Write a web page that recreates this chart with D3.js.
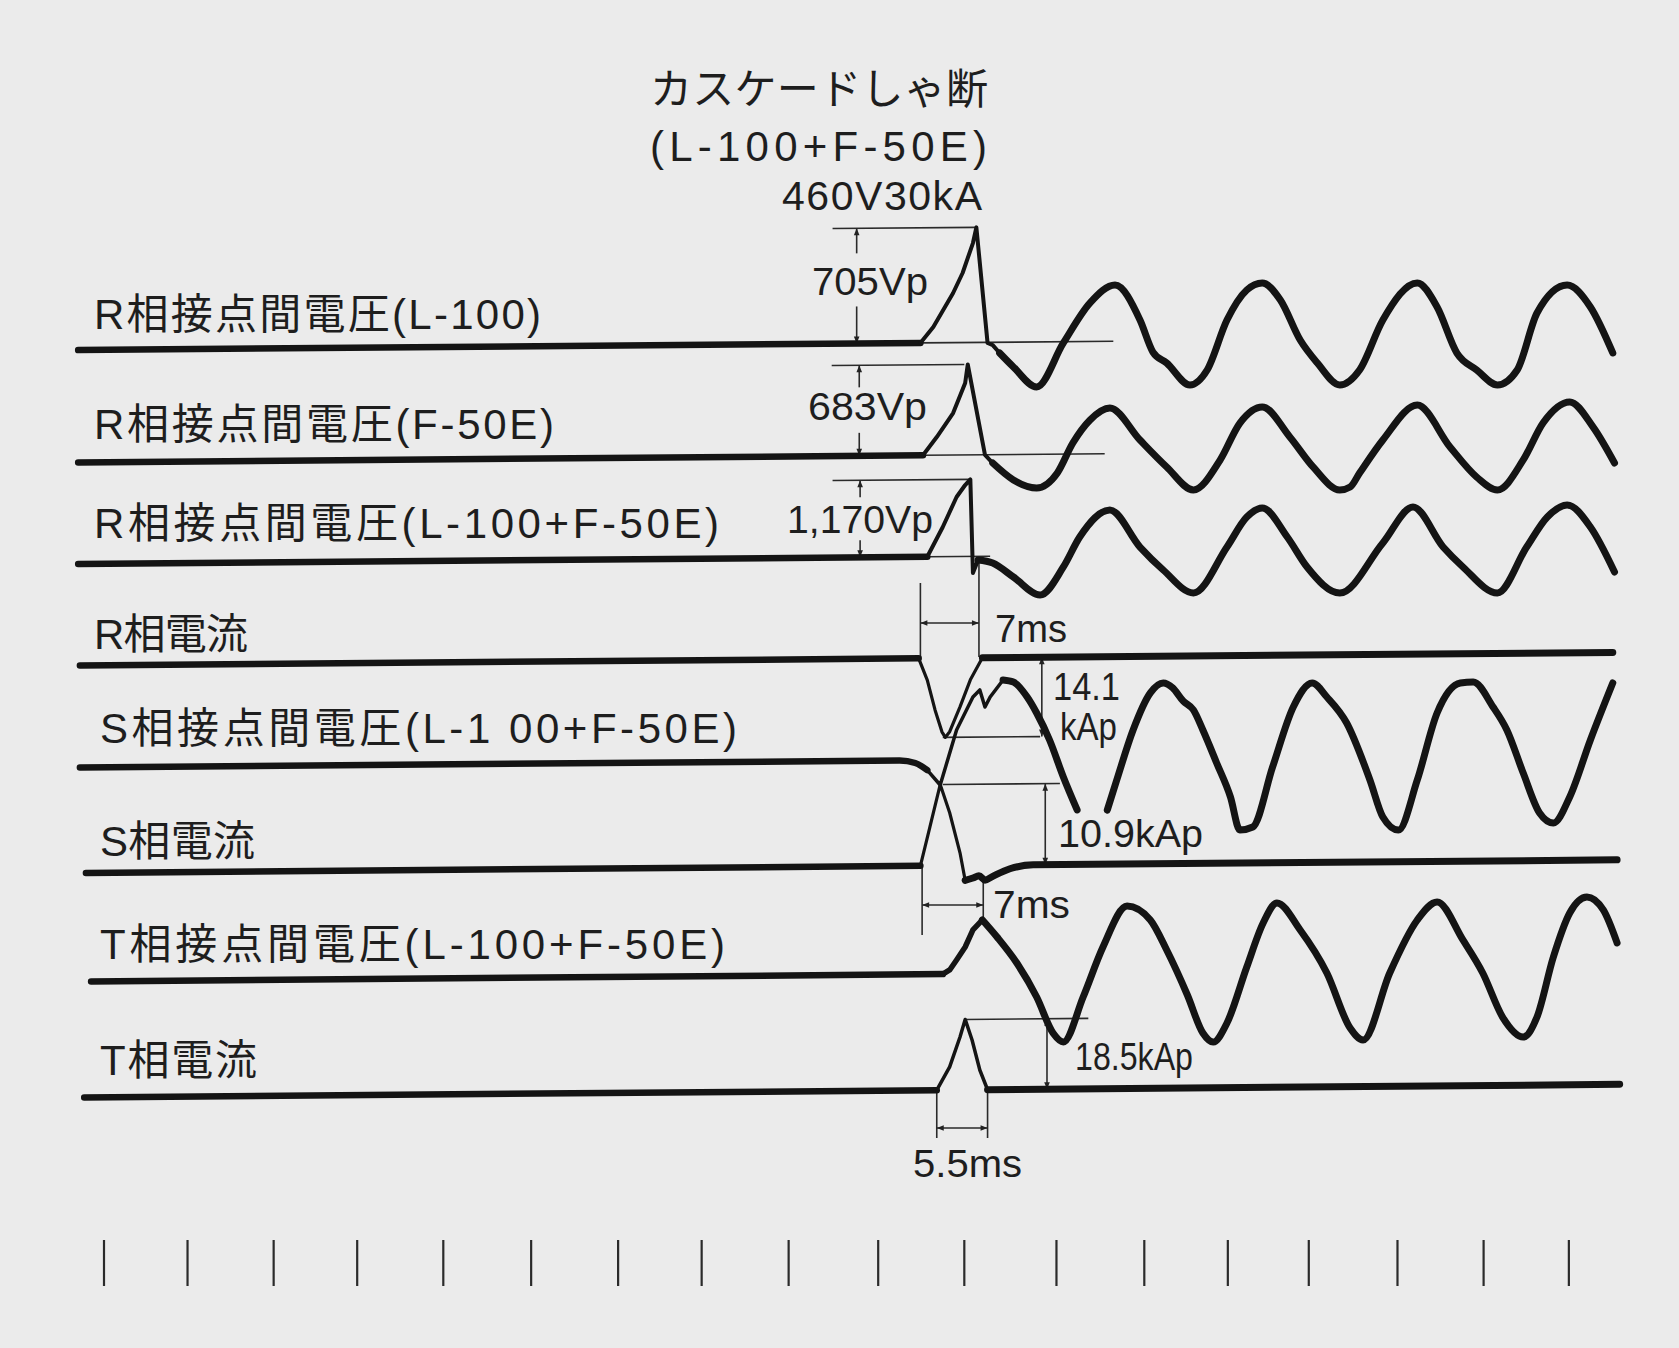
<!DOCTYPE html>
<html lang="ja">
<head>
<meta charset="UTF-8">
<title>カスケードしゃ断 オシログラム</title>
<script src="https://cdn.jsdelivr.net/npm/d3@7"></script>
<style>
  html, body { margin: 0; padding: 0; background: #ebebeb; }
  svg { display: block; }
  text { font-family: "Liberation Sans", "Noto Sans CJK JP", sans-serif; fill: #1e1e1e; }
</style>
</head>
<body>
<svg id="chart"></svg>
<script>
// timing marks along the bottom (ms)
const timeMarks = [0, 9.7, 19.7, 29.4, 39.4, 49.6, 59.7, 69.4, 79.5, 89.9, 99.9, 110.6, 120.8, 130.5, 139.9, 150.2, 160.2, 170.1];

// traces as [time ms, value]; voltages in V, currents in kA
const rVoltL100 = [[-3,0],[94.8,0],[96.3,97],[98.6,304],[99.7,426],[100.9,609],[101.3,705],[102.6,-4],[103.2,-17],[104.0,-66],
  [105.6,-152],[108.3,-276],[111.4,-8],[114.5,236],[117.4,344],[120.3,129],[121.8,-68],[123.4,-136],[126.1,-272],[128.1,-181],
  [130.4,124],[132.7,307],[134.5,349],[136.6,244],[138.9,-2],[140.9,-144],[143.5,-280],[145.8,-189],[148.5,116],[152.5,341],
  [154.8,193],[157.1,-90],[159.4,-195],[161.8,-288],[164.1,-197],[166.4,151],[169.9,321],[172.6,185],[175.2,-98]];

const rVoltF50E = [[-3,0],[95.1,0],[96.7,137],[98.6,317],[100.0,543],[100.3,683],[102.3,0],[103.2,-63],[105.6,-192],[108.3,-254],
  [110.7,-142],[112.5,83],[114.5,256],[116.8,345],[120.3,101],[123.4,-104],[126.5,-279],[129.6,-55],[131.9,223],[134.5,343],
  [137.7,115],[140.4,-113],[143.5,-289],[144.7,-267],[145.8,-162],[148.5,86],[152.5,347],[156.3,29],[159.4,-200],[161.8,-299],
  [164.8,-74],[167.1,204],[170.2,361],[172.9,171],[175.4,-103]];

const rVoltBoth = [[-3,0],[95.6,0],[97.4,450],[99.0,904],[100.0,1085],[100.6,1170],[100.9,-253],[101.5,-56],[103.2,-103],[105.6,-319],
  [108.7,-596],[111.4,-173],[113.3,280],[116.8,687],[120.3,120],[123.0,-232],[126.5,-585],[130.4,109],[132.7,562],[134.5,698],
  [137.4,254],[139.7,-205],[143.5,-605],[148.5,150],[152.0,693],[155.5,81],[157.8,-225],[161.8,-625],[165.2,70],[167.6,524],
  [169.9,704],[172.6,366],[175.4,-321]];

const rCurrent = [[-2.8,0],[94.6,0],[95.6,-3.9],[96.5,-9.2],[97.3,-13.1],[97.7,-14.1],[98.2,-13.1],[99.4,-8.7],[100.6,-3.9],
  [102.0,0],[175.2,0]];

const sVoltBoth = [[-2.8,0],[92.4,0],[94.2,-40],[95.6,-150],[97.1,-378],[99.0,456],[100.9,955],[101.7,1061],[102.3,802],[102.9,953],[104.4,1210],
  [105.6,1178],[107.2,948],[108.3,704],[109.8,292],[111.4,-272],[113.0,-775],[114.8,null],[116.5,-780],[117.6,-325],[119.5,433],
  [121.5,994],[123.0,1143],[124.1,1067],[125.3,868],[126.5,730],[127.6,424],[129.2,-79],[130.8,-597],[131.9,-1100],[133.4,-1056],
  [135.7,-147],[138.1,762],[140.3,1125],[142.0,909],[144.3,512],[147.0,-357],[148.5,-922],[150.3,-1122],[152.5,-363],[154.8,652],
  [157.5,1105],[159.0,1118],[161.3,736],[162.9,385],[164.8,-271],[166.7,-881],[168.3,-1035],[170.2,-641],[172.6,222],[175.2,1085]];

const sCurrent = [[-2.1,0],[94.8,0],[95.9,5.2],[97.1,10.9],[98.2,7.1],[99.4,1.7],[100.0,-2.0],[100.9,-1.7],[101.6,-1.4],[102.3,-2.0],
  [103.2,-1.5],[105.2,-0.5],[107.9,0],[175.7,0]];

const tVoltBoth = [[-1.5,0],[97.4,0],[98.2,62],[99.0,213],[100.0,409],[100.9,667],[102.0,818],[103.7,557],[106.0,159],[108.3,-360],
  [110.2,-909],[111.4,-1047],[113.7,-366],[116.0,391],[118.8,1011],[121.5,796],[123.4,337],[125.8,-349],[127.6,-929],[128.8,-1067],
  [130.4,-780],[132.7,69],[134.6,735],[136.2,1038],[138.9,624],[142.0,-33],[144.7,-872],[146.2,-1056],[149.3,-41],[152.5,761],
  [154.8,1032],[157.8,451],[160.1,-53],[162.4,-725],[164.8,-1031],[166.4,-729],[168.3,181],[170.2,848],[172.2,1088],[174.1,889],
  [175.7,386]];

const tCurrent = [[-2.3,0],[96.7,0],[98.2,6.1],[99.4,13.9],[100.0,18.5],[100.8,13.1],[101.7,5.2],[102.6,0],[176.0,0]];

// trace names on the left
const traceNames = ["R相接点間電圧(L-100)", "R相接点間電圧(F-50E)", "R相接点間電圧(L-100+F-50E)", "R相電流",
  "S相接点間電圧(L-1 00+F-50E)", "S相電流", "T相接点間電圧(L-100+F-50E)", "T相電流"];

// annotated peak values
const peakValues = [705, 683, 1170, -14.1, 10.9, 18.5];

const W = 1679, H = 1348;
const svg = d3.select("#chart").attr("width", W).attr("height", H);
svg.append("rect").attr("width", W).attr("height", H).attr("fill", "#ebebeb");

const x = d3.scaleLinear().domain([0, 170]).range([104, 1568]);

// the photographed record is slightly tilted, lines rise to the right
const tilt = 0.00855, pivot = 840;

// layout of each channel: zero line, and the pixel height of a reference value
const traces = {
  r1: { data: rVoltL100, base: 343.6, ref: 705, refPx: 115.1, thin: [94.8, 104.0], thinW: 4 },
  r2: { data: rVoltF50E, base: 456, ref: 683, refPx: 90.5, thin: [95.1, 103.2], thinW: 4 },
  r3: { data: rVoltBoth, base: 557.5, ref: 1170, refPx: 77, thin: [95.6, 101.5], thinW: 4 },
  ri: { data: rCurrent, base: 659, ref: 14.1, refPx: 79.3, thin: [94.6, 102.0], thinW: 3.2 },
  sv: { data: sVoltBoth, base: 761, ref: 1170, refPx: 77, thin: [95.6, 104.4], thinW: 3.5 },
  si: { data: sCurrent, base: 866.5, ref: 10.9, refPx: 81.1, thin: [94.8, 100.0], thinW: 3.2 },
  tv: { data: tVoltBoth, base: 975, ref: 1170, refPx: 77, thin: [97.4, 102.0], thinW: 5.5 },
  ti: { data: tCurrent, base: 1091, ref: 18.5, refPx: 70.5, thin: [96.7, 102.6], thinW: 3.5 }
};
Object.values(traces).forEach(tr => {
  tr.y = d3.scaleLinear().domain([0, tr.ref]).range([0, tr.refPx]);
});
function yAt(tr, t, v) {
  return tr.base - tilt * (x(t) - pivot) - tr.y(v);
}

const defs = svg.append("defs");
defs.append("marker")
  .attr("id", "arr")
  .attr("viewBox", "0 0 10 10")
  .attr("refX", 10).attr("refY", 5)
  .attr("markerWidth", 11).attr("markerHeight", 7)
  .attr("markerUnits", "userSpaceOnUse")
  .attr("orient", "auto-start-reverse")
  .append("path").attr("d", "M0,1 L10,5 L0,9 Z").attr("fill", "#222");

// ---- timing marks
svg.append("g").selectAll("line")
  .data(timeMarks)
  .join("line")
  .attr("x1", d => x(d)).attr("x2", d => x(d))
  .attr("y1", 1240).attr("y2", 1286)
  .attr("stroke", "#2a2a2a").attr("stroke-width", 2.2);

// ---- thin reference lines
const refLines = [
  { tr: "r1", v: 705, t: [84.6, 101.3] }, { tr: "r1", v: 0, t: [94.8, 117.2] },
  { tr: "r2", v: 683, t: [84.5, 99.9] }, { tr: "r2", v: 0, t: [95.1, 116.2] },
  { tr: "r3", v: 1170, t: [84.6, 100.6] }, { tr: "r3", v: 0, t: [95.6, 102.9] },
  { tr: "ri", v: -14.1, t: [97.4, 108.7] },
  { tr: "si", v: 10.9, t: [97.4, 111.0] },
  { tr: "ti", v: 18.5, t: [100.0, 114.3] }
];
const ann = svg.append("g").attr("stroke", "#2a2a2a").attr("stroke-width", 1.6).attr("fill", "none");
refLines.forEach(r => {
  const tr = traces[r.tr];
  ann.append("line")
    .attr("x1", x(r.t[0])).attr("x2", x(r.t[1]))
    .attr("y1", yAt(tr, r.t[0], r.v)).attr("y2", yAt(tr, r.t[1], r.v));
});

// ---- peak value arrows
const peakArrows = [
  { tr: "r1", t: 87.4, top: 25, bottom: 37 },
  { tr: "r2", t: 87.7, top: 22, bottom: 23 },
  { tr: "r3", t: 87.8, top: 17, bottom: 17 },
  { tr: "ri", t: 108.9 },
  { tr: "si", t: 109.3 },
  { tr: "ti", t: 109.5 }
];
peakArrows.forEach((a, i) => {
  const tr = traces[a.tr];
  const px = x(a.t);
  const yPeak = yAt(tr, a.t, peakValues[i]);
  const yZero = yAt(tr, a.t, 0);
  if (a.top) {
    ann.append("line").attr("x1", px).attr("x2", px)
      .attr("y1", yPeak).attr("y2", yPeak + a.top).attr("marker-start", "url(#arr)");
    ann.append("line").attr("x1", px).attr("x2", px)
      .attr("y1", yZero - a.bottom).attr("y2", yZero).attr("marker-end", "url(#arr)");
  } else {
    ann.append("line").attr("x1", px).attr("x2", px)
      .attr("y1", yPeak).attr("y2", yZero)
      .attr("marker-start", "url(#arr)").attr("marker-end", "url(#arr)");
  }
});

// ---- duration marks (ms)
const timeDims = [
  { t: [94.8, 101.6], left: [583, 660], right: [560, 657], arrowY: 623 },
  { t: [95.0, 102.1], left: [867, 935], right: [880, 925], arrowY: 905 },
  { t: [96.7, 102.6], left: [1090, 1138], right: [1090, 1138], arrowY: 1128 }
];
timeDims.forEach(d => {
  const x1 = x(d.t[0]), x2 = x(d.t[1]);
  ann.append("line").attr("x1", x1).attr("x2", x1).attr("y1", d.left[0]).attr("y2", d.left[1]);
  ann.append("line").attr("x1", x2).attr("x2", x2).attr("y1", d.right[0]).attr("y2", d.right[1]);
  ann.append("line").attr("x1", x1).attr("x2", x2).attr("y1", d.arrowY).attr("y2", d.arrowY)
    .attr("marker-start", "url(#arr)").attr("marker-end", "url(#arr)");
});

// ---- traces
const gTr = svg.append("g").attr("fill", "none").attr("stroke", "#141414")
  .attr("stroke-linecap", "round").attr("stroke-linejoin", "round");
Object.values(traces).forEach(tr => {
  const [a, b] = tr.thin;
  const parts = [
    { pts: tr.data.filter(d => d[0] <= a), w: 6.5, curve: d3.curveMonotoneX },
    { pts: tr.data.filter(d => d[0] >= a && d[0] <= b), w: tr.thinW, curve: d3.curveLinear },
    { pts: tr.data.filter(d => d[0] >= b), w: 7, curve: d3.curveMonotoneX }
  ];
  parts.forEach(p => {
    const line = d3.line()
      .defined(d => d[1] !== null)
      .x(d => x(d[0]))
      .y(d => yAt(tr, d[0], d[1]))
      .curve(p.curve);
    gTr.append("path").attr("d", line(p.pts)).attr("stroke-width", p.w);
  });
});

// ---- texts
const gTxt = svg.append("g");
function label(text, x0, base, size, width, squeeze) {
  gTxt.append("text")
    .attr("x", x0).attr("y", base)
    .attr("font-size", size)
    .attr("textLength", width)
    .attr("lengthAdjust", squeeze ? "spacingAndGlyphs" : "spacing")
    .text(text);
}
const nameLayout = [
  [94, 329, 447], [94, 439, 460], [94, 538, 625], [94, 649, 154],
  [100, 743, 637], [100, 856, 155], [100, 959, 625], [100, 1075, 157]
];
traceNames.forEach((n, i) => label(n, nameLayout[i][0], nameLayout[i][1], 42, nameLayout[i][2], false));

label("カスケードしゃ断", 650, 104, 42, 338, false);
label("(L-100+F-50E)", 650, 161, 42, 337, false);
label("460V30kA", 782, 210, 41, 200, false);

label("705Vp", 812, 295, 39, 116, true);
label("683Vp", 808, 420, 39, 119, true);
label("1,170Vp", 787, 533, 39, 146, true);
label("7ms", 995, 642, 39, 72, true);
label("14.1", 1053, 700, 38, 67, true);
label("kAp", 1060, 740, 38, 57, true);
label("10.9kAp", 1058, 847, 38, 145, true);
label("7ms", 993, 918, 39, 77, true);
label("18.5kAp", 1075, 1070, 38, 118, true);
label("5.5ms", 913, 1177, 39, 109, true);
</script>
</body>
</html>
